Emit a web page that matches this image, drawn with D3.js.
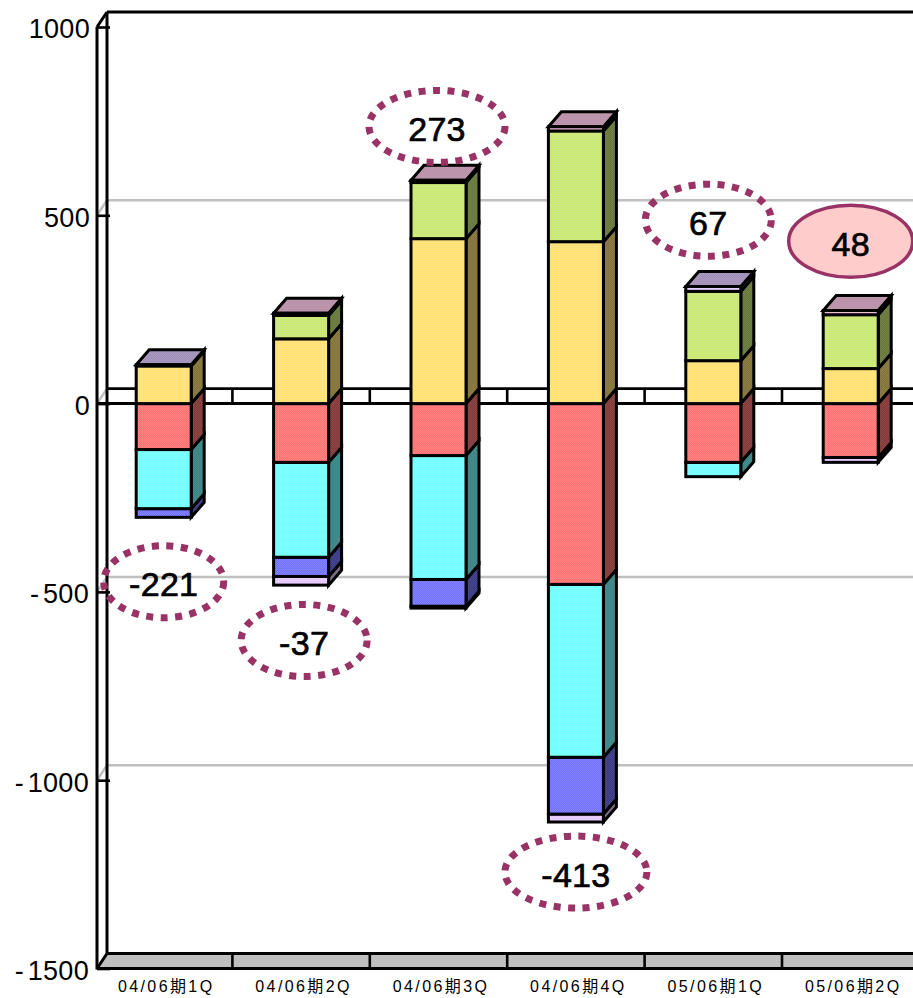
<!DOCTYPE html>
<meta charset="utf-8" />
<script src="https://d3js.org/d3.v7.min.js"></script>
<style>
  html, body { margin: 0; padding: 0; background: #fff; overflow: hidden; }
  text { font-family: "Liberation Sans", "Noto Sans CJK JP", sans-serif; fill: #000; }
</style>

<div id="my_dataviz"></div>

<script>
  const width = 913, height = 998;

  const categories = ['04/06期1Q', '04/06期2Q', '04/06期3Q', '04/06期4Q', '05/06期1Q', '05/06期2Q'];
  const yTicks = [1000, 500, 0, -500, -1000, -1500];
  const gridValues = [500, 0, -500, -1000];

  // stacked values, positive series go up from zero and negative ones go down
  const yellow = [100, 172, 438, 430, 114, 93];
  const green = [0, 62, 149, 294, 184, 143];
  const pink = [0, 6, 6, 11, 0, 11];
  const purple = [3, 0, 0, 0, 13, 0];
  const red = [-122, -156, -138, -480, -156, -143];
  const cyan = [-157, -252, -329, -459, -38, 0];
  const blue = [-23, -51, -71, -151, 0, 0];
  const lilac = [0, -23, -5, -21, 0, -13];

  // figures printed in the ovals, and the value level each oval sits at
  const calloutValues = [-221, -37, 273, -413, 67, 48];
  const calloutLevels = [-473, -629, 736, -1244, 487, 431];

  const seriesNames = ['yellow', 'green', 'pink', 'purple', 'red', 'cyan', 'blue', 'lilac'];
  const seriesData = { yellow, green, pink, purple, red, cyan, blue, lilac };
  const seriesColor = {
    yellow: '#ffe070', green: '#c8e870', pink: '#ffc8e8', purple: '#e0c8ff',
    red: '#ff7070', cyan: '#70ffff', blue: '#7070ff', lilac: '#e4c8ff'
  };

  // oval layout
  const calloutShift = [0, 3, -1.5, 0, -5, 0];
  const calloutRx = [60, 63, 68, 71, 63, 62];
  const calloutRy = 36;

  // offsets of the back wall and of the bar depth
  const wallDx = 10, wallDy = 15, barDx = 13, barDy = 15;

  const svg = d3
    .select('#my_dataviz')
    .append('svg')
    .attr('width', width)
    .attr('height', height)
    .style('display', 'block');

  const x = d3.scaleBand().domain(categories).range([95, 95 + 137.4 * categories.length]);
  const y = d3.scaleLinear().domain([1000, -1500]).range([27, 968.5]);
  const barWidth = 55;
  const barLeft = (c) => x(c) + x.bandwidth() / 2 - barWidth / 2;

  // dithered fills, each colour alternating with a lighter one on a small grid
  const shade = (c, k) => {
    const o = d3.rgb(c);
    return d3.rgb(o.r * k, o.g * k, o.b * k).formatHex();
  };
  const defs = svg.append('defs');
  function addPattern(id, color, light) {
    const p = defs
      .append('pattern')
      .attr('id', id)
      .attr('width', 2)
      .attr('height', 2)
      .attr('patternUnits', 'userSpaceOnUse');
    p.append('rect').attr('width', 2).attr('height', 2).attr('fill', color);
    p.append('rect').attr('width', 1).attr('height', 1).attr('fill', '#fff').attr('opacity', light);
    p.append('rect').attr('x', 1).attr('y', 1).attr('width', 1).attr('height', 1).attr('fill', '#fff').attr('opacity', light);
  }
  seriesNames.forEach((n) => {
    addPattern('front-' + n, seriesColor[n], 0.14);
    addPattern('side-' + n, shade(seriesColor[n], 0.52), 0.06);
    addPattern('top-' + n, shade(seriesColor[n], 0.72), 0.08);
  });

  const line = (x1, y1, x2, y2, color, w) =>
    svg
      .append('line')
      .attr('x1', x1)
      .attr('y1', y1)
      .attr('x2', x2)
      .attr('y2', y2)
      .attr('stroke', color)
      .attr('stroke-width', w);

  const frontX = x.range()[0] + 2;
  const backX = frontX + wallDx;
  const rightX = width + 10;
  const floorY = y(-1500);
  const topY = y(1000);

  // floor
  svg
    .append('path')
    .attr('d', `M${frontX},${floorY}L${backX},${floorY - wallDy}L${rightX},${floorY - wallDy}L${rightX},${floorY}Z`)
    .attr('fill', '#c0c0c0');

  // grid on the back wall and its run down the side wall
  gridValues.forEach((v) => {
    line(frontX, y(v), backX, y(v) - wallDy, '#c0c0c0', 2.5);
    if (v !== 0) line(backX, y(v) - wallDy, rightX, y(v) - wallDy, '#c0c0c0', 2.5);
  });

  // walls
  line(frontX, floorY + 1, frontX, topY, '#000', 3);
  line(backX, floorY - wallDy, backX, topY - wallDy, '#000', 3);
  line(frontX, topY, backX, topY - wallDy, '#000', 3);
  line(backX, topY - wallDy, rightX, topY - wallDy, '#000', 3);
  line(frontX, floorY, backX, floorY - wallDy, '#000', 3);
  line(backX, floorY - wallDy, rightX, floorY - wallDy, '#000', 3);
  line(frontX, floorY, rightX, floorY, '#000', 3);

  // zero plane edges
  line(backX, y(0) - wallDy, rightX, y(0) - wallDy, '#000', 2.6);
  line(frontX, y(0), rightX, y(0), '#000', 3);

  // separators between categories, on the zero plane and on the floor
  categories.slice(1).concat('end').forEach((c, i) => {
    const px = x.range()[0] + x.step() * (i + 1);
    line(px, y(0) - wallDy, px, y(0), '#000', 2.6);
    line(px, floorY - wallDy, px, floorY, '#000', 2.6);
  });

  // value axis
  const yAxis = svg
    .append('g')
    .attr('transform', `translate(${frontX},0)`)
    .call(d3.axisLeft(y).tickValues(yTicks).tickFormat(d3.format('d')).tickSizeInner(-13).tickSizeOuter(0).tickPadding(7));
  yAxis.select('.domain').remove();
  yAxis.selectAll('.tick line').attr('stroke', '#000').attr('stroke-width', 2.6);
  yAxis
    .selectAll('.tick text')
    .style('font-size', '27px')
    .style('letter-spacing', '0.3px')
    .style('fill', '#000')
    .attr('dy', '0.4em')
    .each(function (d) {
      if (d >= 0) return;
      // the minus stands a little apart from the digits
      const t = d3.select(this);
      t.text(null);
      t.append('tspan').attr('dx', -1).style('letter-spacing', '4px').text('-');
      t.append('tspan').text(Math.abs(d));
    });

  // category axis
  const xAxis = svg
    .append('g')
    .attr('transform', `translate(2.5,${floorY})`)
    .call(d3.axisBottom(x).tickSize(0).tickPadding(12));
  xAxis.select('.domain').remove();
  xAxis
    .selectAll('.tick text')
    .attr('lang', 'ja')
    .style('font-size', '16px')
    .style('letter-spacing', '2.4px')
    .style('fill', '#000');

  // stacked 3D bars
  const table = categories.map((c, i) => {
    const row = { category: c };
    seriesNames.forEach((n) => (row[n] = seriesData[n][i]));
    return row;
  });
  const stacked = d3.stack().keys(seriesNames).offset(d3.stackOffsetDiverging)(table);

  const segments = [];
  stacked.forEach((s) => {
    s.forEach((d) => {
      if (d[0] !== d[1]) segments.push({ name: s.key, category: d.data.category, lo: Math.min(d[0], d[1]), hi: Math.max(d[0], d[1]) });
    });
  });
  // lowest first so upper segments and their caps stay on top
  segments.sort((a, b) => a.lo - b.lo);

  const bars = svg.append('g').attr('stroke', '#000').attr('stroke-width', 3).attr('stroke-linejoin', 'miter');

  bars
    .selectAll('path.side')
    .data(segments)
    .join('path')
    .attr('class', 'side')
    .attr('fill', (d) => `url(#side-${d.name})`)
    .attr('d', (d) => {
      const r = barLeft(d.category) + barWidth;
      return `M${r},${y(d.hi)}L${r + barDx},${y(d.hi) - barDy}L${r + barDx},${y(d.lo) - barDy}L${r},${y(d.lo)}Z`;
    });

  // cap on the topmost segment of every bar
  const caps = categories.map((c) => {
    const own = segments.filter((d) => d.category === c);
    return own[own.length - 1];
  });
  bars
    .selectAll('path.cap')
    .data(caps)
    .join('path')
    .attr('class', 'cap')
    .attr('fill', (d) => `url(#top-${d.name})`)
    .attr('d', (d) => {
      const l = barLeft(d.category);
      const t = y(d.hi);
      return `M${l},${t}L${l + barDx},${t - barDy}L${l + barWidth + barDx},${t - barDy}L${l + barWidth},${t}Z`;
    });

  bars
    .selectAll('rect.front')
    .data(segments)
    .join('rect')
    .attr('class', 'front')
    .attr('x', (d) => barLeft(d.category))
    .attr('y', (d) => y(d.hi))
    .attr('width', barWidth)
    .attr('height', (d) => y(d.lo) - y(d.hi))
    .attr('fill', (d) => `url(#front-${d.name})`);

  // ovals with the figures; the last period is highlighted with a solid one
  const callouts = svg
    .selectAll('g.callout')
    .data(calloutValues)
    .join('g')
    .attr('class', 'callout')
    .attr('transform', (d, i) => {
      const c = categories[i];
      return `translate(${x(c) + x.bandwidth() / 2 + calloutShift[i]},${y(calloutLevels[i])})`;
    });
  callouts
    .append('ellipse')
    .attr('rx', (d, i) => calloutRx[i])
    .attr('ry', calloutRy)
    .attr('fill', (d, i) => (i === calloutValues.length - 1 ? '#ffcccc' : 'none'))
    .attr('stroke', '#993366')
    .attr('stroke-width', (d, i) => (i === calloutValues.length - 1 ? 3.5 : 7))
    .attr('stroke-dasharray', (d, i) => (i === calloutValues.length - 1 ? null : '7 7.5'));
  callouts
    .append('text')
    .attr('text-anchor', 'middle')
    .attr('dy', '0.43em')
    .style('font-size', '34px')
    .style('letter-spacing', '0.3px')
    .style('stroke', '#000')
    .style('stroke-width', '0.7px')
    .text((d) => d);
</script>
